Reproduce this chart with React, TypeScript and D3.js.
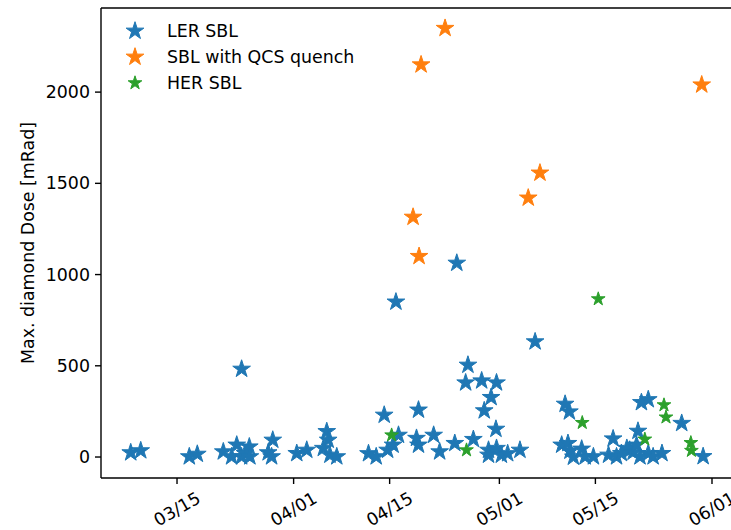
import React from "react";
import * as d3 from "d3";

// LER SBL events: time of the abort and maximum diamond dose
const lerDates = [
  "2022-03-08 06", "2022-03-09 17", "2022-03-16 19", "2022-03-17 23", "2022-03-21 18",
  "2022-03-22 23", "2022-03-23 17", "2022-03-24 10", "2022-03-24 10", "2022-03-24 22",
  "2022-03-25 13", "2022-03-25 15", "2022-03-28 07", "2022-03-28 23", "2022-03-28 19",
  "2022-04-01 11", "2022-04-02 22", "2022-04-05 20", "2022-04-06 01", "2022-04-05 08",
  "2022-04-06 07", "2022-04-07 07", "2022-04-11 22", "2022-04-13 01", "2022-04-14 05",
  "2022-04-14 17", "2022-04-15 12", "2022-04-16 07", "2022-04-15 22", "2022-04-19 05",
  "2022-04-18 22", "2022-04-19 05", "2022-04-21 10", "2022-04-22 07", "2022-04-24 12",
  "2022-04-24 19", "2022-04-26 10", "2022-04-26 02", "2022-04-27 05", "2022-04-28 10",
  "2022-04-28 19", "2022-04-29 19", "2022-04-30 14", "2022-04-30 12", "2022-04-29 10",
  "2022-04-29 10", "2022-04-30 14", "2022-05-01 07", "2022-05-02 05", "2022-05-04 00",
  "2022-05-06 05", "2022-05-10 14", "2022-05-11 05", "2022-05-10 02", "2022-05-11 00",
  "2022-05-11 07", "2022-05-11 19", "2022-05-13 00", "2022-05-13 12", "2022-05-14 17",
  "2022-05-17 14", "2022-05-16 22", "2022-05-18 02", "2022-05-20 00", "2022-05-21 05",
  "2022-05-21 17", "2022-05-22 17", "2022-05-19 14", "2022-05-20 12", "2022-05-21 12",
  "2022-05-22 17", "2022-05-23 10", "2022-05-24 17", "2022-05-21 00", "2022-05-27 14",
  "2022-05-30 17", "2022-05-18 19",
];
const lerDose = [
  24, 35, 2, 16, 29,
  2, 66, 482, 2, 20,
  56, 2, 24, 93, 2,
  20, 38, 140, 93, 48,
  11, 2, 19, 2, 230,
  38, 66, 120, 850, 258,
  103, 66, 120, 29, 75,
  1063, 504, 407, 97, 418,
  254, 327, 407, 153, 38,
  11, 48, 11, 19, 38,
  632, 290, 248, 66, 75,
  33, 0, 44, 2, 2,
  100, 11, 2, 38, 142,
  299, 315, 48, 27, 2,
  20, 2, 20, 66, 185,
  3, 20,
];

// SBL events that ended in a QCS quench
const quenchDates = [
  "2022-04-23 02", "2022-04-19 14", "2022-04-18 10", "2022-04-19 07",
  "2022-05-05 05", "2022-05-06 22", "2022-05-30 12",
];
const quenchDose = [2350, 2150, 1315, 1100, 1420, 1557, 2040];

// HER SBL events
const herDates = [
  "2022-04-15 07", "2022-04-26 05", "2022-05-15 10", "2022-05-13 02", "2022-05-22 05",
  "2022-05-25 00", "2022-05-25 07", "2022-05-28 22", "2022-05-29 00",
];
const herDose = [120, 38, 866, 188, 97, 285, 218, 78, 35];

const xTickDates = ["2022-03-15 00", "2022-04-01 00", "2022-04-15 00", "2022-05-01 00", "2022-05-15 00", "2022-06-01 00"];
const doseTicks = [0, 500, 1000, 1500, 2000];
const xLimits = ["2022-03-03 22", "2022-06-03 22"];
const doseLimits = [-115, 2461];

const seriesNames = ["LER SBL", "SBL with QCS quench", "HER SBL"];
const seriesColors = ["#1f77b4", "#ff7f0e", "#2ca02c"];

const parse = d3.timeParse("%Y-%m-%d %H");
const fmt = d3.timeFormat("%m/%d");

const W = 731;
const H = 530;
const M = { left: 101, top: 8, right: 732, bottom: 478 };
const FONT = "'DejaVu Sans', sans-serif";
const FS = 17.4;

// five-pointed star centred on its circumcircle
function starPath(r: number): string {
  const inner = r * 0.381966;
  const pts: [number, number][] = [];
  for (let i = 0; i < 10; i++) {
    const rad = i % 2 === 0 ? r : inner;
    const a = (Math.PI / 5) * i;
    pts.push([rad * Math.sin(a), -rad * Math.cos(a)]);
  }
  return d3.line()(pts) + "Z";
}

export default function App() {
  const x = d3
    .scaleTime()
    .domain(xLimits.map((s) => parse(s) as Date))
    .range([M.left, M.right]);
  const y = d3.scaleLinear().domain(doseLimits).range([M.bottom, M.top]);

  const bigStar = starPath(9.3);
  const smallStar = starPath(7.2);

  const series = [
    { dates: lerDates, dose: lerDose, color: seriesColors[0], path: bigStar },
    { dates: quenchDates, dose: quenchDose, color: seriesColors[1], path: bigStar },
    { dates: herDates, dose: herDose, color: seriesColors[2], path: smallStar },
  ];

  return (
    <svg
      width={W}
      height={H}
      style={{ position: "absolute", left: 0, top: 0, background: "#fff" }}
      fontFamily={FONT}
    >
      <defs>
        <clipPath id="plot-area">
          <rect x={M.left} y={M.top} width={M.right - M.left} height={M.bottom - M.top} />
        </clipPath>
      </defs>

      <g clipPath="url(#plot-area)">
        {series.map((s, si) => (
          <g key={si}>
            {s.dates.map((d, i) => (
              <path
                key={i}
                d={s.path}
                transform={`translate(${x(parse(d) as Date)},${y(s.dose[i])})`}
                fill={s.color}
                stroke={s.color}
                strokeWidth={1}
                strokeLinejoin="miter"
              />
            ))}
          </g>
        ))}
      </g>

      {/* spines */}
      <g stroke="#000" strokeWidth={1.4} fill="none">
        <line x1={M.left} x2={M.left} y1={M.top} y2={M.bottom} />
        <line x1={M.left} x2={M.right} y1={M.bottom} y2={M.bottom} />
        <line x1={M.left} x2={M.right} y1={M.top} y2={M.top} />
        <line x1={M.right} x2={M.right} y1={M.top} y2={M.bottom} />
      </g>

      {/* y axis */}
      {doseTicks.map((t) => (
        <g key={t} transform={`translate(0,${y(t)})`}>
          <line x1={M.left - 6} x2={M.left} stroke="#000" strokeWidth={1.4} />
          <text x={M.left - 11} textAnchor="end" dominantBaseline="central" fontSize={FS} fill="#000">
            {t}
          </text>
        </g>
      ))}

      {/* x axis */}
      {xTickDates.map((s) => {
        const xt = x(parse(s) as Date);
        return (
          <g key={s}>
            <line x1={xt} x2={xt} y1={M.bottom} y2={M.bottom + 6} stroke="#000" strokeWidth={1.4} />
            <text
              transform={`translate(${xt},${M.bottom + 31}) rotate(-30)`}
              textAnchor="middle"
              dominantBaseline="central"
              fontSize={FS}
              fill="#000"
            >
              {fmt(parse(s) as Date)}
            </text>
          </g>
        );
      })}

      <text
        transform={`translate(28,${(M.top + M.bottom) / 2}) rotate(-90)`}
        textAnchor="middle"
        dominantBaseline="central"
        fontSize={FS}
        fill="#000"
      >
        Max. diamond Dose [mRad]
      </text>

      {/* legend */}
      {seriesNames.map((name, i) => (
        <g key={name} transform={`translate(135,${31 + i * 26})`}>
          <path d={i === 2 ? smallStar : bigStar} fill={seriesColors[i]} stroke={seriesColors[i]} strokeWidth={1} />
          <text x={32} dominantBaseline="central" fontSize={FS} fill="#000">
            {name}
          </text>
        </g>
      ))}
    </svg>
  );
}
